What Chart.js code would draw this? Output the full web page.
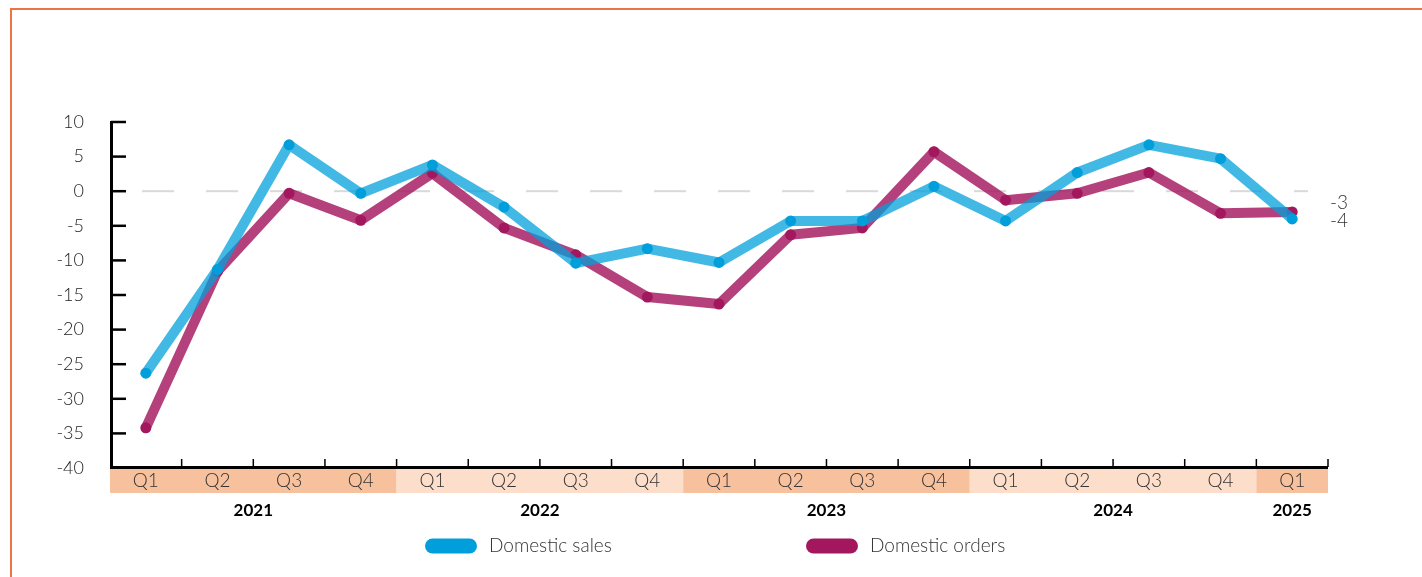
<!DOCTYPE html>
<html>
<head>
<meta charset="utf-8">
<script src="https://cdn.jsdelivr.net/npm/chart.js@4/dist/chart.umd.min.js"></script>
<style>
  html, body { margin: 0; padding: 0; background: #fff; }
  #wrap { width: 1422px; height: 577px; position: relative; }
</style>
</head>
<body>
<div id="wrap"><canvas id="chart" width="1422" height="577"></canvas></div>
<script>
// Quarterly categories, grouped by year
const quarters = ['Q1','Q2','Q3','Q4','Q1','Q2','Q3','Q4','Q1','Q2','Q3','Q4','Q1','Q2','Q3','Q4','Q1'];
const years = ['2021','2022','2023','2024','2025'];
const quartersPerYear = [4, 4, 4, 4, 1];

// Balance figures per quarter
const domesticSales  = [-26.3, -11.3, 6.7, -0.3, 3.8, -2.3, -10.4, -8.3, -10.3, -4.3, -4.3, 0.7, -4.3, 2.7, 6.7, 4.7, -4];
const domesticOrders = [-34.2, -11.6, -0.3, -4.2, 2.6, -5.3, -9.2, -15.3, -16.3, -6.3, -5.3, 5.7, -1.3, -0.3, 2.7, -3.2, -3];

// Value axis
const yMin = -40, yMax = 10, yStep = 5;

const FONT = 'Lato, "Open Sans", sans-serif';

function roundRect(ctx, x, y, w, h, r) {
  ctx.beginPath();
  ctx.moveTo(x + r, y);
  ctx.lineTo(x + w - r, y);
  ctx.arc(x + w - r, y + r, r, -Math.PI / 2, Math.PI / 2);
  ctx.lineTo(x + r, y + h);
  ctx.arc(x + r, y + r, r, Math.PI / 2, Math.PI * 1.5);
  ctx.closePath();
}

const decor = {
  id: 'decor',
  beforeDraw(chart) {
    const ctx = chart.ctx;
    ctx.save();
    ctx.fillStyle = '#fff';
    ctx.fillRect(0, 0, chart.width, chart.height);
    // Frame (top and left edges)
    ctx.strokeStyle = '#EC7443';
    ctx.lineWidth = 2;
    ctx.beginPath();
    ctx.moveTo(11, chart.height + 5);
    ctx.lineTo(11, 9);
    ctx.lineTo(chart.width + 5, 9);
    ctx.stroke();
    ctx.restore();
  },
  beforeDatasetsDraw(chart) {
    const ctx = chart.ctx, y = chart.scales.y, area = chart.chartArea;
    const y0 = y.getPixelForValue(0);
    ctx.save();
    ctx.strokeStyle = '#d9d9d9';
    ctx.lineWidth = 2;
    ctx.setLineDash([32, 32]);
    ctx.beginPath();
    ctx.moveTo(area.left + 32, y0);
    ctx.lineTo(area.right - 20, y0);
    ctx.stroke();
    ctx.restore();
  },
  afterDatasetsDraw(chart) {
    const ctx = chart.ctx, xs = chart.scales.x, ys = chart.scales.y, area = chart.chartArea;
    ctx.save();
    // Value axis line and inward ticks
    ctx.strokeStyle = '#000';
    ctx.lineWidth = 3;
    ctx.beginPath();
    ctx.moveTo(area.left + 1.5, ys.getPixelForValue(yMax) - 1);
    ctx.lineTo(area.left + 1.5, area.bottom);
    ctx.stroke();
    ctx.lineWidth = 2.5;
    ys.ticks.forEach(t => {
      const py = ys.getPixelForValue(t.value);
      ctx.beginPath();
      ctx.moveTo(area.left + 1, py);
      ctx.lineTo(area.left + 16, py);
      ctx.stroke();
    });

    // Category axis band with quarter and year labels
    const n = quarters.length;
    const centers = quarters.map((_, i) => xs.getPixelForValue(i));
    const half = (centers[1] - centers[0]) / 2;
    const bandTop = area.bottom + 1, bandH = 24;
    let idx = 0;
    years.forEach((yr, g) => {
      const count = quartersPerYear[g];
      const x0 = centers[idx] - half, x1 = centers[idx + count - 1] + half;
      ctx.fillStyle = g % 2 === 0 ? '#F8C19E' : '#FCDECB';
      ctx.fillRect(x0, bandTop, x1 - x0, bandH);
      ctx.fillStyle = '#000';
      ctx.font = 'bold 17px ' + FONT;
      ctx.textAlign = 'center';
      ctx.textBaseline = 'middle';
      ctx.fillText(yr, (x0 + x1) / 2, area.bottom + 43);
      idx += count;
    });
    ctx.fillStyle = '#333';
    ctx.font = '300 19px ' + FONT;
    ctx.textAlign = 'center';
    ctx.textBaseline = 'middle';
    quarters.forEach((q, i) => ctx.fillText(q, centers[i], bandTop + bandH / 2));

    ctx.strokeStyle = '#000';
    ctx.lineWidth = 3;
    ctx.beginPath();
    ctx.moveTo(area.left, area.bottom - 0.5);
    ctx.lineTo(area.right, area.bottom - 0.5);
    ctx.stroke();
    ctx.lineWidth = 1.5;
    for (let i = 0; i < n; i++) {
      const bx = centers[i] + half;
      ctx.beginPath();
      ctx.moveTo(bx, area.bottom - 1);
      ctx.lineTo(bx, area.bottom - 9);
      ctx.stroke();
    }

    // End-of-series value labels, nudged apart when they collide
    const ends = chart.data.datasets.map(ds => {
      const v = ds.data[ds.data.length - 1];
      return { v, y: ys.getPixelForValue(v) };
    }).sort((a, b) => a.y - b.y);
    for (let i = 1; i < ends.length; i++) {
      const gap = ends[i].y - ends[i - 1].y;
      if (gap < 18) {
        const mid = (ends[i].y + ends[i - 1].y) / 2;
        ends[i - 1].y = mid - 9;
        ends[i].y = mid + 9;
      }
    }
    ctx.fillStyle = '#333';
    ctx.font = '300 19px ' + FONT;
    ctx.textAlign = 'left';
    ends.forEach(e => ctx.fillText(String(Math.round(e.v)), area.right + 2, e.y - 4));

    // Legend
    const legendY = 546;
    const legendItems = [
      { x: 425, tx: 489 },
      { x: 806, tx: 870 }
    ];
    chart.data.datasets.forEach((ds, i) => {
      const it = legendItems[i];
      ctx.fillStyle = ds.pointBackgroundColor;
      roundRect(ctx, it.x, legendY - 7.5, 52, 15, 7.5);
      ctx.fill();
      ctx.fillStyle = '#333';
      ctx.font = '300 19px ' + FONT;
      ctx.textAlign = 'left';
      ctx.textBaseline = 'middle';
      ctx.fillText(ds.label, it.tx, legendY);
    });
    ctx.restore();
  }
};

new Chart(document.getElementById('chart'), {
  type: 'line',
  data: {
    labels: quarters,
    datasets: [
      {
        label: 'Domestic sales',
        data: domesticSales,
        borderColor: 'rgba(0,159,219,0.74)',
        pointBackgroundColor: '#009FDB',
        borderWidth: 10,
        pointRadius: 5.5,
        pointBorderWidth: 0,
        borderCapStyle: 'round',
        borderJoinStyle: 'round',
        tension: 0,
        clip: false
      },
      {
        label: 'Domestic orders',
        data: domesticOrders,
        borderColor: 'rgba(163,23,95,0.82)',
        pointBackgroundColor: '#A3175F',
        borderWidth: 10,
        pointRadius: 5.5,
        pointBorderWidth: 0,
        borderCapStyle: 'round',
        borderJoinStyle: 'round',
        tension: 0,
        clip: false
      }
    ]
  },
  options: {
    responsive: false,
    animation: false,
    devicePixelRatio: 1,
    events: [],
    layout: { padding: { left: 10, right: 94, top: 122, bottom: 101 } },
    plugins: { legend: { display: false }, tooltip: { enabled: false } },
    scales: {
      x: {
        offset: true,
        grid: { display: false },
        border: { display: false },
        ticks: { display: false }
      },
      y: {
        min: yMin,
        max: yMax,
        grid: { display: false },
        border: { display: false },
        afterFit(scale) { scale.width = 100; },
        ticks: {
          stepSize: yStep,
          padding: 18,
          color: '#222',
          font: { family: FONT, size: 18, weight: '300' }
        }
      }
    }
  },
  plugins: [decor]
});
</script>
</body>
</html>
